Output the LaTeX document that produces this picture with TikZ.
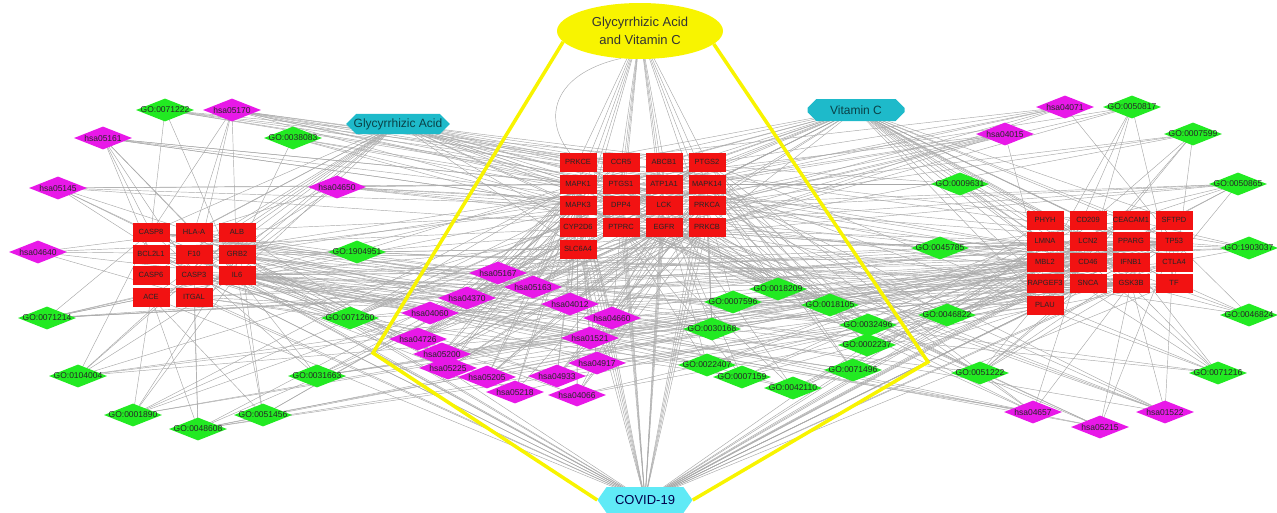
\documentclass[tikz,border=0pt]{standalone}
\usepackage{fontspec}
\setmainfont{Liberation Sans}
\definecolor{geneRed}{RGB}{242,18,18}
\definecolor{hsaMagenta}{RGB}{232,24,232}
\definecolor{goGreen}{RGB}{34,234,34}
\definecolor{drugCyan}{RGB}{30,186,202}
\definecolor{covidCyan}{RGB}{96,234,246}
\definecolor{comboYellow}{RGB}{248,244,0}
\definecolor{edgeGray}{RGB}{168,168,168}
\usetikzlibrary{
    shapes.geometric,
    shapes.misc,
    shapes.symbols
}
\pgfdeclarelayer{background}
\pgfsetlayers{background,main}
\newcommand\leftGenes{CASP8,HLA-A,ALB,BCL2L1,F10,GRB2,CASP6,CASP3,IL6,ACE,ITGAL}
\newcommand\centreGenes{PRKCE,CCR5,ABCB1,PTGS2,MAPK1,PTGS1,ATP1A1,MAPK14,MAPK3,DPP4,LCK,PRKCA,CYP2D6,PTPRC,EGFR,PRKCB,SLC6A4}
\newcommand\rightGenes{PHYH,CD209,CEACAM1,SFTPD,LMNA,LCN2,PPARG,TP53,MBL2,CD46,IFNB1,CTLA4,RAPGEF3,SNCA,GSK3B,TF,PLAU}

\begin{document}
\begin{tikzpicture}[x=1pt, y=-1pt,
        gene/.style={rectangle, fill=geneRed, minimum width=37pt, minimum height=19pt, inner sep=0pt, text=black!85, font=\fontsize{7.5}{8}\selectfont},
        pathway/.style={diamond, fill=hsaMagenta, minimum width=58pt, minimum height=23pt, inner sep=0pt},
        goterm/.style={diamond, fill=goGreen, minimum width=58pt, minimum height=23pt, inner sep=0pt},
        dlabel/.style={inner sep=0pt, text=black!85, font=\fontsize{8.5}{9}\selectfont},
        drug/.style={chamfered rectangle, chamfered rectangle xsep=7pt, fill=drugCyan, minimum width=97pt, minimum height=19pt, inner sep=1pt, text=black!65!drugCyan, font=\fontsize{12}{13}\selectfont},
        link/.style={draw=edgeGray, line width=0.45pt},
        yellowline/.style={draw=comboYellow, line width=3.5pt, line join=miter},
    ]
    \useasboundingbox (0,0) rectangle (1277,512);

    % hubs
    \node[ellipse, fill=comboYellow, minimum width=166pt, minimum height=56pt, align=center, inner sep=0pt, text=black!80, font=\fontsize{13}{18}\selectfont] (combo) at (640,31) {Glycyrrhizic Acid\\and Vitamin C};
    \node[drug] (glyacid) at (398,124) {Glycyrrhizic Acid};
    \node[drug, minimum height=22pt] (vitc) at (856,110) {Vitamin C};
    \node[signal, signal to=west and east, signal pointer angle=110, fill=covidCyan, minimum width=95pt, minimum height=26pt, inner sep=1pt, text=black!70!blue, font=\fontsize{13}{14}\selectfont] (covid) at (645,500) {COVID-19};

    % target genes
    \foreach \g/\x/\y in {CASP8/151/232, HLA-A/194/232, ALB/237/232,
                          BCL2L1/151/254, F10/194/254, GRB2/237/254,
                          CASP6/151/275, CASP3/194/275, IL6/237/275,
                          ACE/151/297, ITGAL/194/297}
        \node[gene] (\g) at (\x,\y) {\g};
    \foreach \g/\x/\y in {PRKCE/578/162, CCR5/621/162, ABCB1/664/162, PTGS2/707/162,
                          MAPK1/578/184, PTGS1/621/184, ATP1A1/664/184, MAPK14/707/184,
                          MAPK3/578/205, DPP4/621/205, LCK/664/205, PRKCA/707/205,
                          CYP2D6/578/227, PTPRC/621/227, EGFR/664/227, PRKCB/707/227,
                          SLC6A4/578/249}
        \node[gene] (\g) at (\x,\y) {\g};
    \foreach \g/\x/\y in {PHYH/1045/220, CD209/1088/220, CEACAM1/1131/220, SFTPD/1174/220,
                          LMNA/1045/241, LCN2/1088/241, PPARG/1131/241, TP53/1174/241,
                          MBL2/1045/262, CD46/1088/262, IFNB1/1131/262, CTLA4/1174/262,
                          RAPGEF3/1045/283, SNCA/1088/283, GSK3B/1131/283, TF/1174/283,
                          PLAU/1045/305}
        \node[gene] (\g) at (\x,\y) {\g};

    % KEGG pathways
    \foreach \n/\x/\y in {hsa05161/103/138, hsa05170/232/110, hsa05145/58/188, hsa04650/337/187,
                          hsa04640/38/252,
                          hsa05167/498/273, hsa05163/533/287, hsa04370/467/298, hsa04012/570/304,
                          hsa04060/430/313, hsa04660/612/318, hsa04726/418/339, hsa01521/590/338,
                          hsa05200/442/354, hsa04917/597/363, hsa05225/448/368, hsa05205/487/377,
                          hsa04933/557/376, hsa05218/515/392, hsa04066/577/395,
                          hsa04071/1065/107, hsa04015/1005/134,
                          hsa04657/1033/412, hsa05215/1100/427, hsa01522/1165/412}
        \node[pathway, label={[dlabel]center:\n}] (\n) at (\x,\y) {};

    % GO terms
    \foreach \n/\x/\y in {0071222/165/110, 0038083/293/138, 1904951/357/252, 0071214/47/318,
                          0071260/350/318, 0104004/78/376, 0031663/317/376, 0001890/133/415,
                          0048608/198/429, 0051456/263/415,
                          0018209/778/289, 0007596/733/302, 0018105/830/305, 0030168/712/329,
                          0032496/868/325, 0002237/867/345, 0022407/707/365, 0071496/853/370,
                          0007159/742/377, 0042110/793/388,
                          0050817/1132/107, 0007599/1193/134, 0009631/960/184, 0050865/1238/184,
                          0045785/940/248, 1903037/1249/248, 0046822/947/315, 0046824/1249/315,
                          0051222/980/373, 0071216/1218/373}
        \node[goterm, label={[dlabel]center:{GO:\n}}] (go\n) at (\x,\y) {};

    \begin{pgfonlayer}{background}
        % compound and disease links
        \foreach \t in \leftGenes {
            \draw[link] (glyacid.center) -- (\t.center);
            \draw[link] (covid.center) -- (\t.center);
        }
        \foreach \t in \centreGenes {
            \draw[link] (glyacid.center) -- (\t.center);
            \draw[link] (vitc.center) -- (\t.center);
            \draw[link] (combo.center) -- (\t.center);
            \draw[link] (covid.center) -- (\t.center);
        }
        \foreach \t in \rightGenes {
            \draw[link] (vitc.center) -- (\t.center);
            \draw[link] (covid.center) -- (\t.center);
        }
        \draw[link] (combo.235) .. controls (548,75) and (540,125) .. (PRKCE.center);

        % enrichment links
        \foreach \s/\tl in {
            hsa05161/{CASP8,HLA-A,CASP3,BCL2L1,IL6,MAPK1,MAPK3,TP53,IFNB1,GSK3B},
            go0071222/{CASP8,IL6,PTGS2,MAPK14,CD46,IFNB1,CD209},
            hsa05170/{HLA-A,CASP8,CASP3,IL6,CCR5,MAPK1,MAPK3,MAPK14,LCK,IFNB1,GSK3B,TP53},
            go0038083/{EGFR,LCK,GRB2,PRKCA,PTPRC},
            hsa05145/{CASP8,HLA-A,CASP3,IL6,MAPK1,MAPK3,MAPK14,IFNB1},
            hsa04650/{HLA-A,ITGAL,LCK,MAPK1,MAPK3,PRKCA,PRKCB,IFNB1,CASP3},
            hsa04640/{HLA-A,IL6,ITGAL,CD46,PTPRC},
            go1904951/{TP53,PPARG,GSK3B,EGFR,MAPK1,IL6,BCL2L1,SNCA},
            go0071214/{CASP8,IL6,ACE,PTGS2,MAPK14,TP53,CD46,IFNB1,MBL2},
            go0071260/{PTGS2,MAPK3,MAPK1,IL6,CASP3,LMNA,SNCA,MAPK14},
            go0104004/{CASP8,CASP3,IL6,ALB,MAPK14,TP53,TF,LMNA},
            go0031663/{IL6,CASP8,MAPK14,PTGS2,CD46,MBL2,IFNB1},
            go0001890/{ACE,IL6,PTGS2,MAPK1,EGFR,PPARG,TP53,GRB2},
            go0048608/{ACE,ITGAL,CASP3,PTGS2,EGFR,PPARG,TP53,GSK3B,PLAU},
            go0051456/{ACE,IL6,ALB,ATP1A1,PTGS2,CD46},
            hsa05167/{CASP8,CASP3,MAPK1,MAPK3,MAPK14,TP53,GSK3B,IL6,CCR5,HLA-A,BCL2L1,IFNB1},
            hsa05163/{CCR5,MAPK1,MAPK3,MAPK14,PTGS2,TP53,GSK3B,IL6,CASP8,CASP3,PRKCA,PRKCB,EGFR,HLA-A},
            hsa04370/{MAPK1,MAPK3,MAPK14,PTGS2,PRKCA,PRKCB},
            hsa04012/{MAPK1,MAPK3,EGFR,PRKCA,PRKCB,GSK3B,GRB2},
            hsa04060/{CCR5,IL6,IFNB1,LCK,EGFR},
            hsa04660/{LCK,PTPRC,MAPK1,MAPK3,MAPK14,GSK3B,CTLA4,ITGAL},
            hsa04726/{PTGS1,PTGS2,SLC6A4,MAPK1,MAPK3,PRKCA,PRKCB,CYP2D6},
            hsa01521/{EGFR,MAPK1,MAPK3,PRKCA,PRKCB,GSK3B,IL6,BCL2L1,GRB2},
            hsa05200/{MAPK1,MAPK3,PTGS2,EGFR,PRKCA,PRKCB,GSK3B,TP53,IL6,CASP8,CASP3,PPARG,BCL2L1,IFNB1},
            hsa04917/{MAPK1,MAPK3,MAPK14,GSK3B,GRB2},
            hsa05225/{MAPK1,MAPK3,EGFR,PRKCA,PRKCB,GSK3B,TP53,BCL2L1,GRB2},
            hsa05205/{MAPK1,MAPK3,MAPK14,EGFR,PRKCA,PLAU,TP53,GRB2},
            hsa04933/{MAPK1,MAPK3,MAPK14,PRKCA,PRKCB,IL6,CASP3},
            hsa05218/{MAPK1,MAPK3,EGFR,TP53,GRB2},
            hsa04066/{MAPK1,MAPK3,EGFR,PRKCA,PRKCB,IL6,IFNB1,TF},
            go0018209/{PRKCE,PRKCA,PRKCB,MAPK1,MAPK3,MAPK14,LCK,EGFR,GSK3B,PTPRC},
            go0007596/{F10,PLAU,MBL2,CD46,TF,PRKCA},
            go0018105/{PRKCE,PRKCA,PRKCB,MAPK1,MAPK3,MAPK14,GSK3B},
            go0030168/{PRKCA,PRKCB,MAPK14,F10,LCK},
            go0032496/{IL6,PTGS2,MAPK14,CASP8,TP53,LCN2,MAPK3,PPARG},
            go0002237/{IL6,PTGS2,MAPK14,CASP8,LCN2,CD46},
            go0022407/{ITGAL,LCK,PTPRC,CD209,CEACAM1,CTLA4,IL6},
            go0071496/{IL6,PTGS2,MAPK14,TP53,CASP3},
            go0007159/{ITGAL,LCK,PTPRC,CD209,CEACAM1,CTLA4},
            go0042110/{LCK,PTPRC,CTLA4,CEACAM1,HLA-A,IL6,CD46},
            hsa04071/{PRKCA,PRKCB,PRKCE,MAPK1,MAPK3,MAPK14,TP53},
            go0050817/{PLAU,TF,MBL2,F10,PRKCA,CD46,PRKCB},
            hsa04015/{MAPK1,MAPK3,EGFR,PRKCA,PRKCB,RAPGEF3,LCK,GRB2},
            go0007599/{PLAU,TF,F10,PRKCA,MBL2,CD46,PRKCB},
            go0009631/{PPARG,SNCA,LMNA,ABCB1,MAPK14},
            go0050865/{CD209,CEACAM1,CTLA4,LCK,PTPRC,IL6,HLA-A,CD46,PPARG},
            go0045785/{CEACAM1,PPARG,TP53,ITGAL,PTPRC,EGFR,IL6,GSK3B},
            go1903037/{CD209,CEACAM1,CTLA4,ITGAL,LCK,PTPRC,IL6},
            go0046822/{TP53,GSK3B,PPARG,LMNA,IFNB1,EGFR,IL6,MAPK14},
            go0046824/{TP53,GSK3B,IFNB1,LMNA,EGFR},
            go0051222/{PPARG,IL6,LCN2,GSK3B,SNCA,PRKCE,TP53,EGFR},
            go0071216/{IFNB1,CD46,MBL2,PTGS2,MAPK14,IL6,CASP8,LCN2},
            hsa04657/{IL6,MAPK1,MAPK3,MAPK14,PTGS2,GSK3B,LCN2,CASP8,CASP3},
            hsa05215/{TP53,EGFR,MAPK1,MAPK3,GSK3B,BCL2L1,GRB2},
            hsa01522/{TP53,EGFR,MAPK1,MAPK3,MAPK14,GSK3B,GRB2,PRKCA}}
            {\foreach \t in \tl {\draw[link] (\s.center) -- (\t.center);}}
    \end{pgfonlayer}

    % frame round the shared targets
    \coordinate (bend_l) at (373,353);
    \coordinate (bend_r) at (928,362);
    \draw[yellowline] (combo.188) -- (bend_l) -- (covid.west);
    \draw[yellowline] (combo.-10) -- (bend_r) -- (covid.east);
\end{tikzpicture}
\end{document}
